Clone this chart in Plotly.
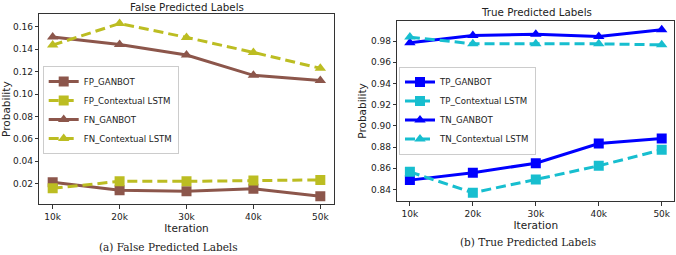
import plotly.graph_objects as go

iterations = ["10k", "20k", "30k", "40k", "50k"]

fp_ganbot = [0.0212, 0.0140, 0.0131, 0.0153, 0.0087]
fp_lstm = [0.0158, 0.0220, 0.0220, 0.0227, 0.0233]
fn_ganbot = [0.1510, 0.1443, 0.1348, 0.1167, 0.1120]
fn_lstm = [0.1437, 0.1630, 0.1506, 0.1372, 0.1230]

tp_ganbot = [0.8488, 0.8557, 0.8648, 0.8833, 0.8880]
tp_lstm = [0.8566, 0.8369, 0.8494, 0.8623, 0.8774]
tn_ganbot = [0.9784, 0.9853, 0.9866, 0.9844, 0.9907]
tn_lstm = [0.9838, 0.9775, 0.9775, 0.9775, 0.9765]

BROWN = "#8c564b"
OLIVE = "#bcbd22"
BLUE = "#0000ff"
CYAN = "#17becf"
FONT = "DejaVu Sans"
W, H = 676, 255

fig = go.Figure()

xi = list(range(len(iterations)))


def add(y, name, color, symbol, dash, xa, ya, legend):
    fig.add_trace(go.Scatter(
        x=xi, y=y, name=name, mode="lines+markers",
        line=dict(color=color, width=3, dash=dash),
        marker=dict(color=color, symbol=symbol, size=10),
        xaxis=xa, yaxis=ya, legend=legend,
    ))


add(fp_ganbot, "FP_GANBOT", BROWN, "square", "solid", "x", "y", "legend")
add(fp_lstm, "FP_Contextual LSTM", OLIVE, "square", "10px,5px", "x", "y", "legend")
add(fn_ganbot, "FN_GANBOT", BROWN, "triangle-up", "solid", "x", "y", "legend")
add(fn_lstm, "FN_Contextual LSTM", OLIVE, "triangle-up", "10px,5px", "x", "y", "legend")

add(tp_ganbot, "TP_GANBOT", BLUE, "square", "solid", "x2", "y2", "legend2")
add(tp_lstm, "TP_Contextual LSTM", CYAN, "square", "10px,5px", "x2", "y2", "legend2")
add(tn_ganbot, "TN_GANBOT", BLUE, "triangle-up", "solid", "x2", "y2", "legend2")
add(tn_lstm, "TN_Contextual LSTM", CYAN, "triangle-up", "10px,5px", "x2", "y2", "legend2")

axis_common = dict(
    showline=True, mirror=True, linecolor="#333333", linewidth=1,
    ticks="outside", ticklen=3.5, tickcolor="#333333", tickwidth=1,
    showgrid=False, zeroline=False, ticklabeloverflow="allow",
    tickfont=dict(family=FONT, size=9, color="#222"),
)

fig.update_layout(
    width=W, height=H, autosize=False,
    margin=dict(l=0, r=0, t=0, b=0),
    paper_bgcolor="white", plot_bgcolor="white",
    font=dict(family=FONT, color="#222"),
    xaxis=dict(domain=[39.3 / W, 333.7 / W], range=[-0.2, 4.2],
               tickvals=xi, ticktext=iterations, anchor="y",
               title=dict(text="Iteration", font=dict(size=10.5), standoff=0),
               **axis_common),
    yaxis=dict(domain=[1 - 204.3 / H, 1 - 14 / H], range=[0.0015, 0.1715],
               tickvals=[0.02, 0.04, 0.06, 0.08, 0.10, 0.12, 0.14, 0.16],
               tickformat=".2f", anchor="x",
               title=dict(text="Probability", font=dict(size=10.5), standoff=4),
               **axis_common),
    xaxis2=dict(domain=[397.3 / W, 674.3 / W], range=[-0.2, 4.2],
                tickvals=xi, ticktext=iterations, anchor="y2",
                title=dict(text="Iteration", font=dict(size=10.5), standoff=0),
                **axis_common),
    yaxis2=dict(domain=[1 - 201.3 / H, 1 - 20.7 / H], range=[0.8288, 0.9993],
                tickvals=[0.84, 0.86, 0.88, 0.90, 0.92, 0.94, 0.96, 0.98],
                tickformat=".2f", anchor="x2",
                title=dict(text="Probability", font=dict(size=10.5), standoff=2),
                **axis_common),
    legend=dict(x=42.7 / W, y=1 - 110 / H, xanchor="left", yanchor="middle",
                bgcolor="rgba(255,255,255,0.8)", bordercolor="#cccccc", borderwidth=1,
                font=dict(family=FONT, size=8.6, color="#222"), tracegroupgap=0),
    legend2=dict(x=399 / W, y=1 - 110.5 / H, xanchor="left", yanchor="middle",
                 bgcolor="rgba(255,255,255,0.8)", bordercolor="#cccccc", borderwidth=1,
                 font=dict(family=FONT, size=8.6, color="#222"), tracegroupgap=0),
    showlegend=True,
)

annots = [
    dict(text="False Predicted Labels", x=186.7 / W, y=1 - 6.5 / H, size=10.3, fam=FONT),
    dict(text="True Predicted Labels", x=536.3 / W, y=1 - 12.3 / H, size=10.3, fam=FONT),
    dict(text="(a) False Predicted Labels", x=168.7 / W, y=1 - 246.7 / H, size=10.5, fam="DejaVu Serif"),
    dict(text="(b) True Predicted Labels", x=527.7 / W, y=1 - 241.7 / H, size=10.5, fam="DejaVu Serif"),
]
for a in annots:
    fig.add_annotation(text=a["text"], x=a["x"], y=a["y"], xref="paper", yref="paper",
                       xanchor="center", yanchor="middle", showarrow=False,
                       font=dict(family=a["fam"], size=a["size"], color="#222"))

fig.write_html("out.html", config={"displayModeBar": False},
               post_script="document.body.style.margin='0';document.body.style.padding='0';")
